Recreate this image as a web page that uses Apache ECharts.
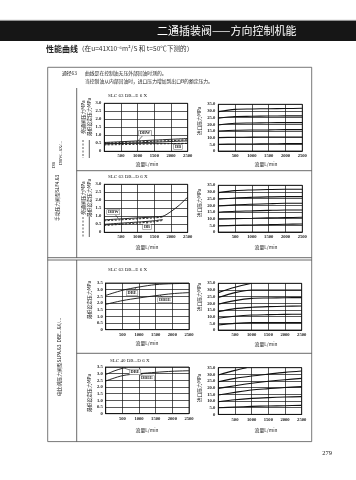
<!DOCTYPE html>
<html><head><meta charset="utf-8">
<script src="https://cdn.jsdelivr.net/npm/echarts@6/dist/echarts.min.js"></script>
<style>html,body{margin:0;padding:0;background:#fff}#c{width:356px;height:480px}</style>
</head><body><div id="c"></div>
<script>
// ---------- data ----------
const flowTicks = [0, 500, 1000, 1500, 2000, 2500];
const leftYTicks = [0, 0.5, 1.0, 1.5, 2.0, 2.5, 3.0];
const rightYTicks = [0, 5, 10, 15, 20, 25, 30, 35];

// chart 1: SLC 63 DB...E 6 X (bypass / min set pressure)
const c1Flow = [0, 500, 1000, 1500, 2000, 2500];
const c1DbwSolid = [0.55, 0.6, 0.65, 0.7, 0.75, 0.8];
const c1DbwDash = [0.5, 0.55, 0.59, 0.63, 0.67, 0.72];
const c1DbSolid = [0.45, 0.49, 0.53, 0.57, 0.61, 0.65];
const c1DbDash = [0.4, 0.42, 0.44, 0.46, 0.48, 0.5];

// chart 2: SLC 63 DB...D 6 X
const c2Flow = [0, 500, 1000, 1500, 1750, 2000, 2250, 2500];
const c2DbwSolid = [0.78, 0.84, 0.9, 0.96, 1.0, 1.3, 1.7, 2.2];
const c2DbwDash = [0.72, 0.78, 0.84, 0.9, 0.95];
const c2DbSolid = [0.5, 0.57, 0.64, 0.72, 0.8];
const c2DbDash = [0.42, 0.5, 0.58, 0.66, 0.74];

// chart 3: SLC 63 DB...E 6 X (min set pressure)
const c3Flow = [0, 500, 1000, 1500, 2000, 2500];
const c3Upper = [2.57, 2.95, 3.2, 3.38, 3.45, 3.47];
const c3Lower = [1.9, 2.18, 2.38, 2.55, 2.7, 2.78];

// chart 4: SLC 40 DB...D 6 X
const c4FlowUpper = [0, 250, 500, 600];
const c4Upper = [2.93, 3.2, 3.4, 3.45];
const c4Flow = [0, 500, 1000, 1500, 2000, 2500];
const c4Lower = [2.45, 2.85, 3.0, 3.1, 3.18, 3.22];

// right charts: inlet pressure
const rFlow = [0, 500, 1000, 1500, 2000, 2500];
const r1Lines = [
  [29.5, 31.2, 31.5, 31.7, 31.8, 32],
  [24.5, 25.8, 26, 26.2, 26.3, 26.3],
  [19.5, 20.8, 21, 21.2, 21.3, 21.3],
  [15, 15.5, 15.7, 15.8, 16, 16],
  [10, 10.3, 10.4, 10.5, 10.5, 10.5],
  [5, 5.2, 5.3, 5.4, 5.5, 5.5]
];
const r2Lines = [
  [29.5, 31, 31.5, 31.8, 32, 32],
  [24.5, 25.5, 26, 26.3, 26.5, 26.5],
  [19.5, 20.3, 20.8, 21.2, 21.5, 21.5],
  [14.8, 15.5, 15.8, 16.2, 16.5, 16.5],
  [9.5, 10, 10.3, 10.6, 10.8, 11],
  [4.5, 5, 5.3, 5.5, 5.8, 6]
];
const r3TopFlow = [0, 500, 1000];
const r3Top = [28, 32, 35];
const r3Lines = [
  [24.3, 28, 30, 30, 30, 30],
  [19.3, 22, 23.7, 24, 24.2, 24.3],
  [13.8, 16, 17, 17.5, 17.8, 18],
  [8.8, 10.3, 11.2, 11.5, 11.7, 11.8],
  [3.8, 5, 5.5, 5.5, 5.5, 5.5]
];
const r4TopFlow = [0, 500, 850];
const r4Top = [29.5, 33, 35];
const r4Lines = [
  [24.5, 27, 28.8, 30.2, 31.5, 32.5],
  [19.5, 21.5, 23.3, 24.8, 26, 27],
  [14.5, 16.5, 18.3, 19.3, 20.2, 20.8],
  [9.5, 11, 12, 12.6, 13, 13.3],
  [5, 5.5, 6, 6.3, 6.5, 6.8]
];

// ---------- layout ----------
const NUM_FONT = '"Liberation Serif", serif';
const CJK_FONT = '"Noto Sans CJK SC", sans-serif';
const grids = [
  {left: 104.3, top: 103.3, width: 83.4, height: 48},
  {left: 218.3, top: 104.3, width: 84, height: 46.7},
  {left: 104.3, top: 184.3, width: 83.4, height: 48},
  {left: 218.3, top: 185.3, width: 84, height: 46.7},
  {left: 105.7, top: 283, width: 83.3, height: 46.7},
  {left: 218.3, top: 283.3, width: 83.4, height: 46.7},
  {left: 105.7, top: 367, width: 83.3, height: 46.7},
  {left: 218.3, top: 367.7, width: 83.4, height: 46.7}
];
const yMax = [3, 35, 3, 35, 3.5, 35, 3.5, 35];
const yInt = [0.5, 5, 0.5, 5, 0.5, 5, 0.5, 5];

const pairs = (xs, ys) => ys.map((y, i) => [xs[i], y]);

const xAxes = grids.map((g, i) => ({
  type: 'value', gridIndex: i, min: 0, max: flowTicks[flowTicks.length - 1], interval: 500,
  axisLine: {show: true, lineStyle: {color: '#111', width: 0.8}},
  axisTick: {show: false},
  axisLabel: {fontSize: 4.6, color: '#222', margin: 2.5, fontFamily: NUM_FONT, fontWeight: 'bold',
    formatter: v => v === 0 ? '' : String(v)},
  splitLine: {show: true, lineStyle: {color: '#111', width: 0.7}}
}));
const yAxes = grids.map((g, i) => ({
  type: 'value', gridIndex: i, min: 0, max: yMax[i], interval: yInt[i],
  axisLine: {show: true, lineStyle: {color: '#111', width: 0.8}},
  axisTick: {show: false},
  axisLabel: {fontSize: 4.6, color: '#222', margin: 3, fontFamily: NUM_FONT, fontWeight: 'bold',
    formatter: v => v === 0 ? '0' : v.toFixed(1)},
  splitLine: {show: true, lineStyle: {color: '#111', width: 0.7}}
}));

function line(idx, data, dashed, w) {
  return {type: 'line', xAxisIndex: idx, yAxisIndex: idx, data: data, symbol: 'none', silent: true,
    animation: false, smooth: 0.3,
    lineStyle: {color: '#111', width: w || 0.9, type: dashed ? [2, 1.5] : 'solid'}};
}
const series = [
  line(0, pairs(c1Flow, c1DbwSolid)), line(0, pairs(c1Flow, c1DbwDash), true),
  line(0, pairs(c1Flow, c1DbSolid)), line(0, pairs(c1Flow, c1DbDash), true),
  line(2, pairs(c2Flow, c2DbwSolid)), line(2, pairs(c2Flow, c2DbwDash), true),
  line(2, pairs(c2Flow, c2DbSolid)), line(2, pairs(c2Flow, c2DbDash), true),
  line(4, pairs(c3Flow, c3Upper)), line(4, pairs(c3Flow, c3Lower)),
  line(6, pairs(c4FlowUpper, c4Upper)), line(6, pairs(c4Flow, c4Lower))
];
r1Lines.forEach(l => series.push(line(1, pairs(rFlow, l), false, 1.1)));
r2Lines.forEach(l => series.push(line(3, pairs(rFlow, l), false, 1.1)));
series.push(line(5, pairs(r3TopFlow, r3Top), false, 1.1));
r3Lines.forEach(l => series.push(line(5, pairs(rFlow, l), false, 1.1)));
series.push(line(7, pairs(r4TopFlow, r4Top), false, 1.1));
r4Lines.forEach(l => series.push(line(7, pairs(rFlow, l), false, 1.1)));

function txt(x, y, text, size, opts) {
  opts = opts || {};
  return {type: 'text', x: x, y: y, rotation: opts.rot || 0, z: 10,
    style: {text: text, fontSize: size, fill: opts.fill || '#222', fontFamily: opts.font || CJK_FONT,
      fontWeight: opts.weight || 'normal', align: opts.align || 'left', verticalAlign: 'middle'}};
}
function ln(x1, y1, x2, y2, w, c, dash) {
  return {type: 'line', z: 5, shape: {x1: x1, y1: y1, x2: x2, y2: y2},
    style: {stroke: c || '#444', lineWidth: w || 0.8, lineDash: dash || null}};
}
const V = Math.PI / 2;
const graphics = [
  {type: 'rect', shape: {x: 0, y: 20.5, width: 356, height: 20.5}, style: {fill: '#161616'}},
  ln(0, 20.3, 356, 20.3, 0.8, '#999'),
  txt(157, 31, '二通插装阀——方向控制机能', 11, {fill: '#fff'}),
  {type: 'text', x: 46, y: 48.5, style: {
    text: '{b|性能曲线}{n|（在u=41X10⁻⁶m²/S 和 t=50℃下测的）}', verticalAlign: 'middle',
    rich: {b: {fontSize: 8, fontWeight: 'bold', fontFamily: CJK_FONT, fill: '#222'},
      n: {fontSize: 6.6, fontFamily: CJK_FONT, fill: '#333'}}}},
  {type: 'rect', shape: {x: 47.7, y: 67.3, width: 264, height: 374.3}, style: {fill: 'none', stroke: '#555', lineWidth: 0.8}},
  ln(76.7, 88, 76.7, 257.7), ln(76.7, 260, 76.7, 441.6),
  ln(47.7, 257.7, 311.7, 257.7), ln(47.7, 260, 311.7, 260),
  ln(76.7, 170.7, 311.7, 170.7), ln(76.7, 353.3, 311.7, 353.3),
  txt(62, 73.5, '通径63', 4.8),
  txt(85, 73.5, '曲线是在控制油无压外部回油时测的。', 4.8),
  txt(85, 81, '当控制油从内部回油时，进口压力增加到出口B的额定压力。', 4.8),
  txt(54, 165, 'DB', 4.6, {rot: V, align: 'center', font: NUM_FONT}),
  txt(61, 153, 'DBW...6X/...', 4.6, {rot: V, align: 'center', font: NUM_FONT}),
  txt(57.5, 198, '手动压力阀型SLF4.63', 4.8, {rot: V, align: 'center'}),
  txt(59, 357, '电比例压力阀型SLPA.63  DBE...6X/...', 4.8, {rot: V, align: 'center'}),
  // chart titles
  txt(108, 95.7, 'SLC 63 DB...E 6 X', 5, {font: NUM_FONT}),
  txt(108, 177, 'SLC 63 DB...D 6 X', 5, {font: NUM_FONT}),
  txt(108, 270, 'SLC 63 DB...E 6 X', 5, {font: NUM_FONT}),
  txt(110, 361, 'SLC 40 DB...D 6 X', 5, {font: NUM_FONT}),
  // left y names
  txt(83, 117, '旁通阀压力MPa', 4.8, {rot: V, align: 'center'}),
  txt(89.3, 117, '最低设定压力MPa', 4.8, {rot: V, align: 'center'}),
  ln(83, 140, 83, 158, 0.8, '#333', [2, 1.5]), ln(89.3, 140, 89.3, 158, 0.8, '#333'),
  txt(83, 198, '旁通阀压力MPa', 4.8, {rot: V, align: 'center'}),
  txt(89.3, 198, '最低设定压力MPa', 4.8, {rot: V, align: 'center'}),
  ln(83, 217, 83, 237, 0.8, '#333', [2, 1.5]), ln(89.3, 217, 89.3, 237, 0.8, '#333'),
  txt(89.3, 300, '最低设定压力MPa', 4.8, {rot: V, align: 'center'}),
  txt(89.3, 393, '最低设定压力MPa', 4.8, {rot: V, align: 'center'}),
  // right y names
  txt(199, 121, '进口压力MPa', 4.8, {rot: V, align: 'center'}),
  txt(199, 203, '进口压力MPa', 4.8, {rot: V, align: 'center'}),
  txt(199, 297, '进口压力MPa', 4.8, {rot: V, align: 'center'}),
  txt(199, 388, '进口压力MPa', 4.8, {rot: V, align: 'center'}),
  // x names
  txt(147, 164, '流量L/min', 4.8, {align: 'center'}), txt(266, 164, '流量L/min', 4.8, {align: 'center'}),
  txt(147, 247, '流量L/min', 4.8, {align: 'center'}), txt(266, 247, '流量L/min', 4.8, {align: 'center'}),
  txt(147, 343.5, '流量L/min', 4.8, {align: 'center'}), txt(266, 344, '流量L/min', 4.8, {align: 'center'}),
  txt(147, 430, '流量L/min', 4.8, {align: 'center'}), txt(266, 430, '流量L/min', 4.8, {align: 'center'}),
  txt(327, 453, '279', 6.5, {align: 'center', font: NUM_FONT})
];

const chart = echarts.init(document.getElementById('c'), null, {renderer: 'canvas'});
chart.setOption({
  animation: false,
  grid: grids.map(g => Object.assign({show: true, borderColor: '#111', borderWidth: 0.8, containLabel: false}, g)),
  xAxis: xAxes, yAxis: yAxes, series: series, graphic: graphics
});

// curve annotations, anchored on data coordinates
const notes = [
  {g: 0, t: 'DBW', at: [1220, 1.14], to: [1000, 0.63]},
  {g: 0, t: 'DB', at: [2210, 0.27], to: [2030, 0.5]},
  {g: 2, t: 'DBW', at: [270, 1.27], to: [420, 0.86]},
  {g: 2, t: 'DB', at: [1280, 0.33], to: [1280, 0.68]},
  {g: 4, t: 'DBE', at: [790, 2.75], to: [910, 3.15]},
  {g: 4, t: 'DBEE', at: [1780, 2.23], to: [1630, 2.6]},
  {g: 6, t: 'DBE', at: [880, 3.13], to: [560, 3.42]},
  {g: 6, t: 'DBEE', at: [1240, 2.68], to: [1030, 3.0]}
];
const extra = [];
notes.forEach(n => {
  const p = chart.convertToPixel({xAxisIndex: n.g, yAxisIndex: n.g}, n.at);
  const q = chart.convertToPixel({xAxisIndex: n.g, yAxisIndex: n.g}, n.to);
  extra.push(ln(p[0], p[1], q[0], q[1], 0.6, '#222'));
  extra.push({type: 'text', x: p[0], y: p[1], z: 12, style: {text: n.t, fontSize: 4.4, fontFamily: NUM_FONT,
    fontWeight: 'bold', fill: '#222', align: 'center', verticalAlign: 'middle',
    backgroundColor: '#fff', padding: [0.5, 1], borderColor: '#444', borderWidth: 0.4}});
});
chart.setOption({graphic: graphics.concat(extra)});
</script>
</body></html>
